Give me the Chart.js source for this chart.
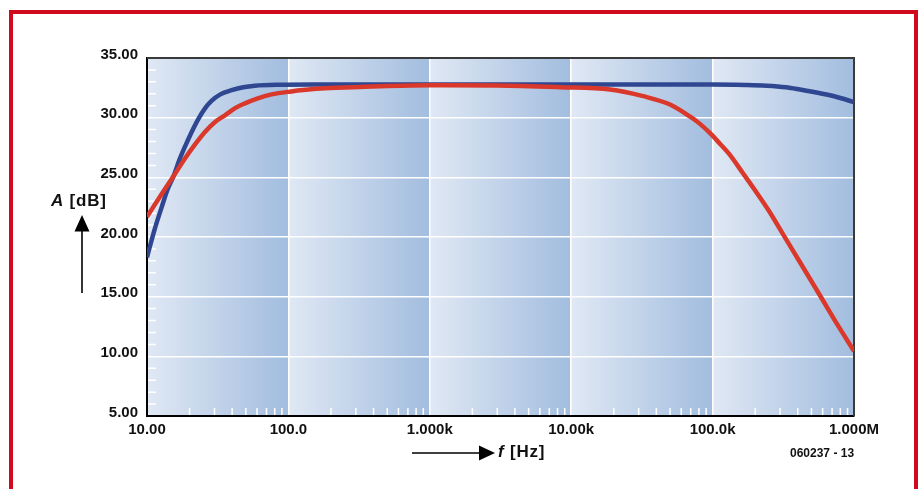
<!DOCTYPE html>
<html>
<head>
<meta charset="utf-8">
<script src="https://cdn.jsdelivr.net/npm/chart.js@4"></script>
<style>
    body { margin: 0; background: #fff; width: 920px; height: 489px; overflow: hidden; position: relative; font-family: "Liberation Sans", Arial, sans-serif; }
    #frame { position: absolute; left: 9px; top: 10px; width: 909px; height: 500px; border: 4.5px solid #cf0a1f; box-sizing: border-box; }
    #wrap { position: absolute; left: 0; top: 0; width: 920px; height: 489px; }
    .lbl { position: absolute; font-weight: bold; color: #111; white-space: nowrap; }
    .ax { font-size: 17px; letter-spacing: 0.8px; }
    svg { position: absolute; left: 0; top: 0; }
</style>
</head>
<body>
<div id="frame"></div>
<div id="wrap"><canvas id="chart" width="920" height="489"></canvas></div>
<svg width="920" height="489">
    <line x1="82" y1="293" x2="82" y2="230" stroke="#000" stroke-width="1.6"/>
    <polygon points="74.5,231.5 89.5,231.5 82,215" fill="#000"/>
    <line x1="412" y1="453" x2="481" y2="453" stroke="#000" stroke-width="1.6"/>
    <polygon points="479,445.5 479,460.5 495,453" fill="#000"/>
</svg>
<div class="lbl ax" style="left:51px; top:191px;"><i>A</i>&nbsp;[dB]</div>
<div class="lbl ax" style="left:498px; top:442px;"><i>f</i>&nbsp;[Hz]</div>
<div class="lbl" style="left:790px; top:446px; font-size:12px;">060237 - 13</div>
<script>
// frequency (Hz) / gain (dB)
const blueFreq = [10, 11.3, 12.7, 14, 15.4, 17, 18.6, 20.5, 23.1, 25.8, 28.6, 33, 39.7, 48, 58, 85, 150, 1000, 100000, 170000, 240000, 330000, 415000, 520000, 640000, 800000, 1000000];
const blueDb   = [18.3, 20.6, 22.5, 24.0, 25.1, 26.5, 27.6, 28.7, 29.9, 30.8, 31.4, 31.95, 32.3, 32.55, 32.68, 32.76, 32.78, 32.78, 32.78, 32.74, 32.68, 32.55, 32.36, 32.15, 31.94, 31.65, 31.3];

const redFreq = [10, 12.7, 15.4, 18.6, 22, 25.7, 30, 35.6, 42, 49.3, 60, 76, 105, 150, 220, 321, 500, 1000, 3000, 8300, 18800, 32300, 50000, 69000, 81000, 96000, 113000, 130000, 165000, 200000, 250000, 316000, 400000, 575000, 750000, 1000000];
const redDb   = [21.7, 23.6, 25.1, 26.6, 27.8, 28.8, 29.6, 30.2, 30.8, 31.2, 31.6, 31.95, 32.2, 32.4, 32.5, 32.58, 32.66, 32.72, 32.7, 32.55, 32.36, 31.8, 31.1, 30.1, 29.5, 28.7, 27.8, 27.0, 25.3, 23.9, 22.2, 20.2, 18.2, 15.1, 12.8, 10.45];

const xTickValues = [10, 100, 1000, 10000, 100000, 1000000];
const xTickLabels = ['10.00', '100.0', '1.000k', '10.00k', '100.0k', '1.000M'];

function toPoints(xs, ys) {
    return xs.map((x, i) => ({ x: x, y: ys[i] }));
}

// decade gradients behind the plot, minor ticks and the top/right edges
const backdrop = {
    id: 'backdrop',
    beforeDraw(chart) {
        const { ctx, chartArea } = chart;
        const xs = chart.scales.x;
        ctx.save();
        for (let i = 0; i < xTickValues.length - 1; i++) {
            const x0 = xs.getPixelForValue(xTickValues[i]);
            const x1 = xs.getPixelForValue(xTickValues[i + 1]);
            const g = ctx.createLinearGradient(x0, 0, x1, 0);
            g.addColorStop(0, '#e0e8f4');
            g.addColorStop(1, '#a2bddf');
            ctx.fillStyle = g;
            ctx.fillRect(x0, chartArea.top, x1 - x0, chartArea.bottom - chartArea.top);
        }
        ctx.restore();
    },
    beforeDatasetsDraw(chart) {
        const { ctx, chartArea } = chart;
        const xs = chart.scales.x, ys = chart.scales.y;
        ctx.save();
        ctx.strokeStyle = '#fff';
        ctx.lineWidth = 1.5;
        ctx.beginPath();
        for (let v = 6; v < 35; v++) {
            if (v % 5 === 0) continue;
            const y = ys.getPixelForValue(v);
            ctx.moveTo(chartArea.left + 1, y);
            ctx.lineTo(chartArea.left + 9, y);
        }
        for (let d = 10; d < 1000000; d *= 10) {
            for (let m = 2; m <= 9; m++) {
                const x = xs.getPixelForValue(d * m);
                ctx.moveTo(x, chartArea.bottom - 1);
                ctx.lineTo(x, chartArea.bottom - 8);
            }
        }
        ctx.stroke();
        ctx.strokeStyle = '#3a3a3a';
        ctx.lineWidth = 2;
        ctx.beginPath();
        ctx.moveTo(chartArea.left, chartArea.top);
        ctx.lineTo(chartArea.right, chartArea.top);
        ctx.lineTo(chartArea.right, chartArea.bottom);
        ctx.stroke();
        ctx.restore();
    }
};

const tickFont = { family: '"Liberation Sans", Arial, sans-serif', size: 15, weight: 'bold' };

new Chart(document.getElementById('chart'), {
    type: 'line',
    data: {
        datasets: [
            {
                label: 'red',
                data: toPoints(redFreq, redDb),
                borderColor: '#d9382b',
                borderWidth: 4.5,
                pointRadius: 0,
                cubicInterpolationMode: 'monotone'
            },
            {
                label: 'blue',
                data: toPoints(blueFreq, blueDb),
                borderColor: '#2f4691',
                borderWidth: 4.5,
                pointRadius: 0,
                cubicInterpolationMode: 'monotone'
            }
        ]
    },
    options: {
        responsive: false,
        animation: false,
        layout: { padding: { left: 0, top: 58, right: 66, bottom: 0 } },
        plugins: { legend: { display: false }, tooltip: { enabled: false } },
        scales: {
            x: {
                type: 'logarithmic',
                min: 10,
                max: 1000000,
                afterBuildTicks: (scale) => { scale.ticks = xTickValues.map(v => ({ value: v })); },
                afterFit: (scale) => { scale.height = 73; },
                ticks: {
                    autoSkip: false,
                    maxRotation: 0,
                    padding: 5,
                    color: '#111',
                    font: tickFont,
                    callback: (value, index) => xTickLabels[index]
                },
                grid: { color: '#fff', lineWidth: 1.5, drawTicks: false },
                border: { color: '#000', width: 2 }
            },
            y: {
                min: 5,
                max: 35,
                afterFit: (scale) => { scale.width = 147; },
                ticks: {
                    stepSize: 5,
                    padding: 9,
                    labelOffset: -3.5,
                    color: '#111',
                    font: tickFont,
                    callback: (value) => value.toFixed(2)
                },
                grid: { color: '#fff', lineWidth: 1.5, drawTicks: false },
                border: { color: '#000', width: 2 }
            }
        }
    },
    plugins: [backdrop]
});
</script>
</body>
</html>
